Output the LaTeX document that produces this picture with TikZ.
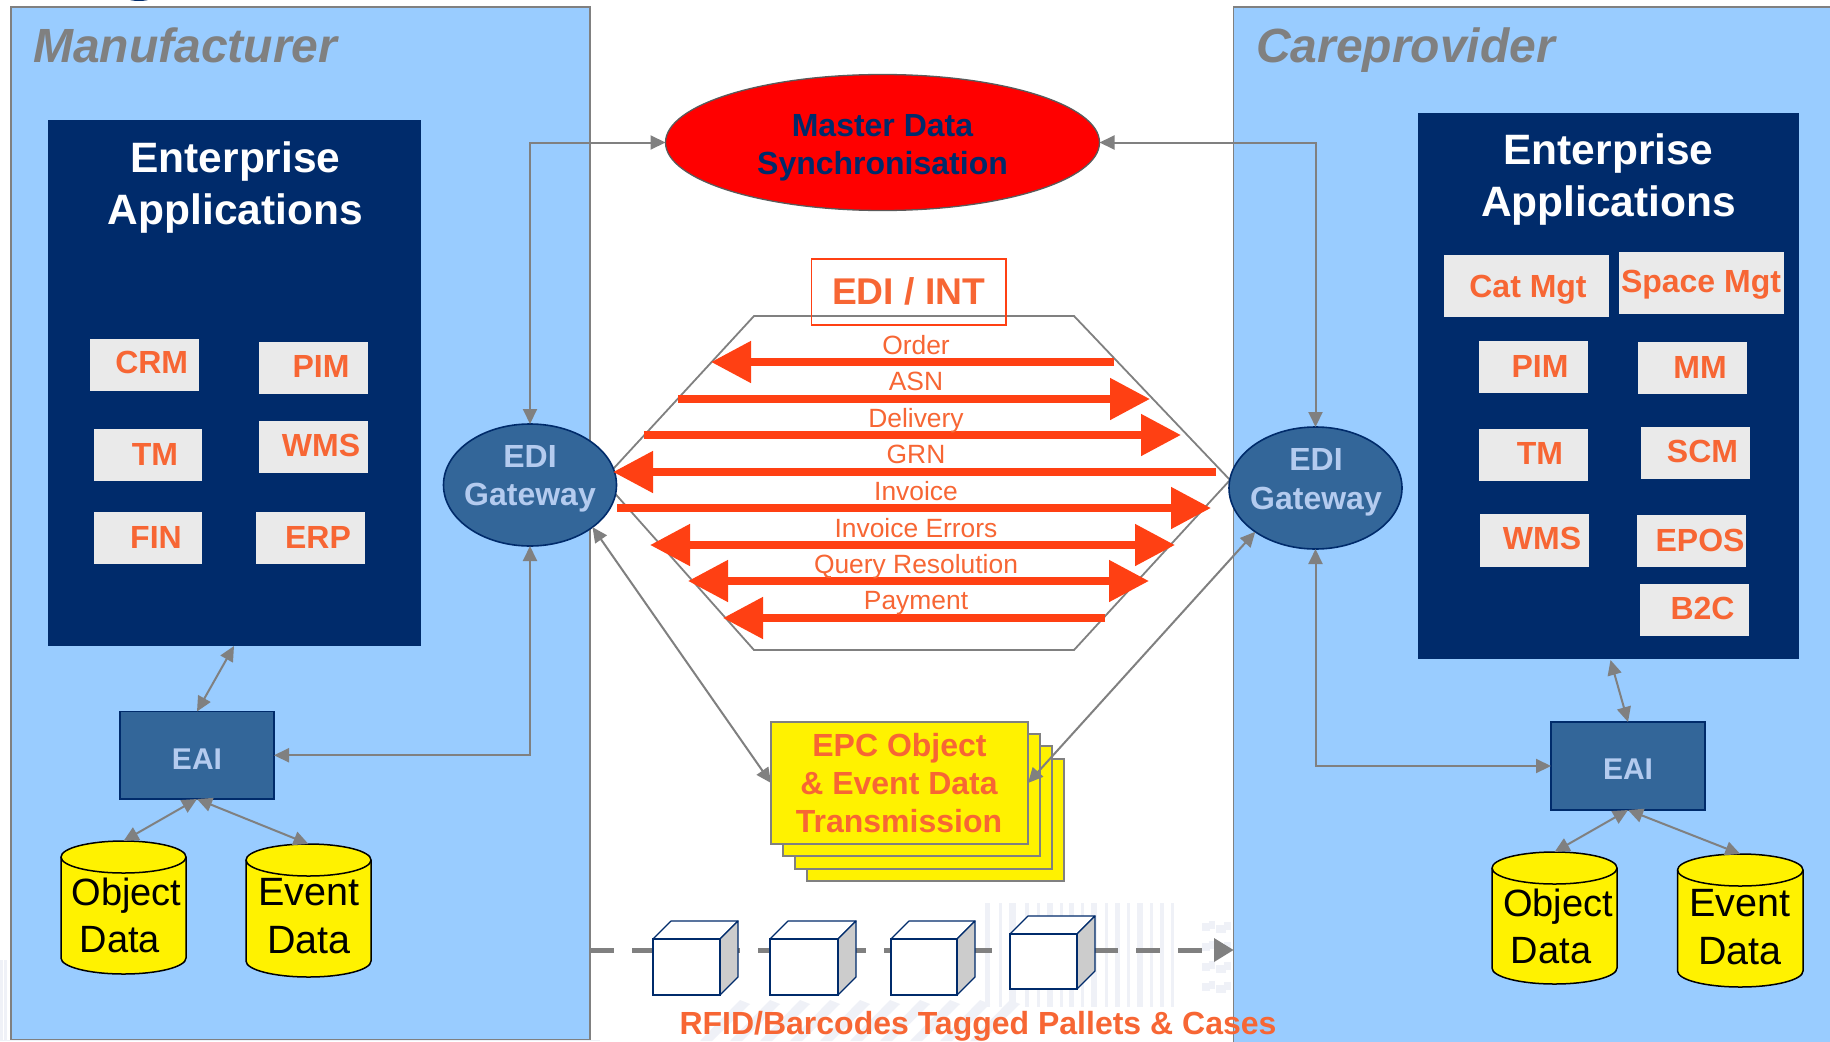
\documentclass[tikz,border=0pt]{standalone}
\usepackage{fontspec}
\setmainfont{Liberation Sans}
\usetikzlibrary{arrows.meta,shapes.geometric,calc}
\definecolor{panelblue}{HTML}{99CCFF}
\definecolor{navy}{HTML}{002B6B}
\definecolor{midblue}{HTML}{336699}
\definecolor{paleblue}{HTML}{B4CBEF}
\definecolor{orangetxt}{HTML}{F76634}
\definecolor{signalred}{HTML}{FF4013}
\definecolor{linegray}{HTML}{808080}
\definecolor{boxgray}{HTML}{EAEAEA}
\definecolor{wmark}{HTML}{EFF1F7}
\newcommand{\fsz}[1]{\fontsize{#1}{#1}\selectfont}
\newcommand{\rectnode}[6]{\node[#2,minimum width={#5-#3},minimum height={#6-#4}] (#1) at ({(#3+#5)/2},{(#4+#6)/2}) {};}
\newcommand{\appbox}[8]{\rectnode{#1box}{appstyle}{#2}{#3}{#4}{#5}\node[apptext] (#1) at (#6,#7) {#8};}
\newcommand{\signal}[7]{%
  \coordinate (#1a) at (#3,#2);\coordinate (#1b) at (#4,#2);
  \draw[signalline,#5] (#1a) -- (#1b);
  \node[signaltext] (#1t) at (916,#6) {#7};}
\newcommand{\crate}[5]{%
  \fill[fill=white] (#2,#3) -- ++(18,-18) -- ++(#4-#2,0) -- ++(-18,18) -- cycle;
  \draw[cubeline] (#2,#3) -- ++(18,-18) -- ++(#4-#2,0) -- ++(-18,18) -- cycle;
  \draw[cubeline,fill=black!20] (#4,#3) -- ++(18,-18) -- ++(0,#5-#3) -- ++(-18,18) -- cycle;
  \rectnode{#1}{cubeface}{#2}{#3}{#4}{#5}}
% name, left x, top y, right x, bottom y
\newcommand{\tank}[5]{%
  \path[tankline] (#2,#3+16) arc (180:360:{(#4-#2)/2} and 16) -- (#4,#5-16) arc (0:180:{(#4-#2)/2} and 16) -- cycle;
  \draw[tankrim] (#2,#3+16) arc (180:0:{(#4-#2)/2} and 16);
  \rectnode{#1}{tankframe}{#2}{#3}{#4}{#5}}
\tikzset{
  x=1pt,y=-1pt,
  panel/.style={draw=linegray,line width=1.8pt,fill=panelblue,inner sep=0,outer sep=0},
  entblock/.style={fill=navy,draw=none,inner sep=0,outer sep=0},
  appstyle/.style={fill=boxgray,draw=none,inner sep=0,outer sep=0},
  apptext/.style={anchor=base,inner sep=0,text=orangetxt,font=\fsz{32}\bfseries},
  headtext/.style={anchor=base,inner sep=0,text=white,font=\fsz{42.5}\bfseries},
  roletext/.style={anchor=base west,inner sep=0,text=linegray,font=\fsz{48}\bfseries\itshape},
  gateway/.style={ellipse,draw=navy,line width=1.6pt,fill=midblue,minimum width=173pt,minimum height=122pt,inner sep=0,outer sep=0},
  eaibox/.style={draw=navy,line width=1.4pt,fill=midblue,inner sep=0,outer sep=0},
  bluetext/.style={anchor=base,inner sep=0,text=paleblue,font=\fsz{#1}\bfseries},
  master/.style={ellipse,draw=linegray!70!black,line width=1.3pt,fill=red,minimum width=434pt,minimum height=136pt,inner sep=0,outer sep=0},
  mastertext/.style={anchor=base,inner sep=0,text=navy,font=\fsz{32}\bfseries},
  conn/.style={draw=linegray,line width=2pt,{Triangle[length=15pt,width=14pt]}-{Triangle[length=15pt,width=14pt]}},
  signalline/.style={draw=signalred,line width=8pt},
  righthead/.style={-{Triangle[length=40pt,width=40pt]}},
  bothhead/.style={{Triangle[length=40pt,width=40pt]}-{Triangle[length=40pt,width=40pt]}},
  signaltext/.style={anchor=base,inner sep=0,text=orangetxt,font=\fsz{26.4}},
  hexline/.style={draw=linegray,line width=1.8pt},
  editext/.style={anchor=base,inner sep=0,text=orangetxt,font=\fsz{37.2}\bfseries},
  edibox/.style={draw=signalred,line width=1.5pt,inner sep=0,outer sep=0},
  sheet/.style={draw=linegray,line width=2.2pt,fill=yellow,inner sep=0,outer sep=0},
  sheettext/.style={anchor=base,inner sep=0,text=orangetxt,font=\fsz{32}\bfseries},
  tankline/.style={draw=black,line width=1.5pt,fill=yellow},
  tankrim/.style={draw=black,line width=1.5pt},
  tankframe/.style={draw=none,fill=none,inner sep=0,outer sep=0},
  storetext/.style={anchor=base,inner sep=0,text=black,font=\fsz{#1}},
  cubeline/.style={draw=navy,line width=1.2pt,line join=round},
  cubeface/.style={draw=navy,line width=1.2pt,fill=white,inner sep=0,outer sep=0},
  flow/.style={draw=linegray,line width=5pt,dash pattern=on 24pt off 18pt},
  flowhead/.style={fill=linegray,draw=none},
  rfidtext/.style={anchor=base,inner sep=0,text=orangetxt,font=\fsz{32}\bfseries},
}
\begin{document}
\begin{tikzpicture}
\useasboundingbox (0,0) rectangle (1830,1041);
\begin{scope}
\clip (0,0) rectangle (1830,1041);
\fill[white] (0,0) rectangle (1830,1041);
% faint barcode watermark
\foreach \bx/\bw in {985/5,999/3,1009/7,1025/4,1037/3,1047/6,1060/3,1069/5,1081/3,1091/6,1105/3,1115/5,1127/3,1137/6,1150/3,1160/4,1171/3}
  \fill[wmark] (\bx,903) rectangle ++(\bw,104);
\foreach \bx/\bw in {1202/8,1216/10,1209/6,1224/7}
  \foreach \by in {915,935,955,975}
    \fill[wmark] (\bx,\by+\bw) rectangle ++(\bw,8);
\foreach \bx in {700,730,760,790,820,850,880,910,940,970}
  \fill[wmark] (\bx,1041) -- (\bx+40,1000) -- (\bx+50,1004) -- (\bx+12,1041) -- cycle;
\foreach \bx in {0,4}
  \fill[wmark] (\bx,960) rectangle ++(3,81);
\fill[wmark] (0,1040) rectangle (600,1041);
\fill[navy] (139,-8) ellipse (20 and 9);
% panels
\rectnode{mfr}{panel}{11}{7}{590}{1039.5}
\rectnode{care}{panel}{1233.5}{7}{1845}{1055}
\end{scope}
\node[roletext] (mfrt) at (33,63) {Manufacturer};
\node[roletext] (caret) at (1256,63) {Careprovider};
% enterprise blocks
\rectnode{entL}{entblock}{47.7}{120.3}{421.3}{645.7}
\rectnode{entR}{entblock}{1418}{113}{1798.7}{659}
\node[headtext] (entLa) at (235.5,172) {Enterprise};
\node[headtext] (entLb) at (235.5,224) {Applications};
\node[headtext] (entRa) at (1608.5,164) {Enterprise};
\node[headtext] (entRb) at (1608.5,216) {Applications};
\appbox{crm}{90}{339}{199}{391}{151.7}{373.5}{CRM}
\appbox{piml}{259}{342}{367.7}{393.5}{321}{377}{PIM}
\appbox{tml}{94}{429}{202}{481}{155}{465}{TM}
\appbox{wmsl}{259}{421}{367.7}{473}{321}{456.5}{WMS}
\appbox{fin}{94}{512}{202}{564}{156}{548}{FIN}
\appbox{erp}{256}{512}{365}{564}{318}{548}{ERP}
\appbox{cat}{1444}{255}{1609}{317}{1528}{297}{Cat Mgt}
\appbox{space}{1619}{252}{1784}{314}{1701}{292}{Space Mgt}
\appbox{pimr}{1479}{341}{1588}{393}{1540}{377}{PIM}
\appbox{mm}{1638}{342}{1747}{394}{1700}{378}{MM}
\appbox{tmr}{1479}{429}{1588}{481}{1540}{464}{TM}
\appbox{scm}{1641}{427}{1750}{479}{1702.5}{462}{SCM}
\appbox{wmsr}{1480}{514}{1589}{567}{1542}{549}{WMS}
\appbox{epos}{1637}{515}{1746}{567}{1700}{551}{EPOS}
\appbox{btoc}{1640}{584}{1749}{636}{1702.5}{619}{B2C}
% hexagon
\coordinate (hexL) at (603,480);
\coordinate (hexR) at (1230,480);
\draw[hexline] (hexL) -- (754,316) -- (1074,316) -- (hexR) -- (1074,650) -- (754,650) -- cycle;
% gateways
\node[gateway] (gwL) at (530,485) {};
\node[gateway] (gwR) at (1315.5,488) {};
\node[bluetext=32] (gwLa) at (530,467) {EDI};
\node[bluetext=32] (gwLb) at (530,505) {Gateway};
\node[bluetext=32] (gwRa) at (1316,470) {EDI};
\node[bluetext=32] (gwRb) at (1316,509) {Gateway};
% master data
\node[master] (mds) at (882.5,142.5) {};
\node[mastertext] (mdsa) at (882.5,136.5) {Master Data};
\node[mastertext] (mdsb) at (882.5,174.5) {Synchronisation};
% EDI box
\rectnode{edi}{edibox}{811.5}{259}{1006}{325}
\node[editext] (edit) at (908.5,304) {EDI / INT};
% signals
\signal{ord}{362}{1114}{711}{righthead}{354}{Order}
\signal{asn}{399}{678}{1150}{righthead}{390}{ASN}
\signal{del}{435}{644}{1181}{righthead}{427}{Delivery}
\signal{grn}{472}{1216}{613}{righthead}{463}{GRN}
\signal{inv}{508}{617}{1211}{righthead}{500}{Invoice}
\signal{err}{545}{650}{1175}{bothhead}{537}{Invoice Errors}
\signal{qry}{581}{688}{1149}{bothhead}{573}{Query Resolution}
\signal{pay}{618}{1105}{723}{righthead}{609}{Payment}
% EPC stack
\rectnode{epcD}{sheet}{807}{759}{1064}{881}
\rectnode{epcC}{sheet}{795}{746}{1052}{869}
\rectnode{epcB}{sheet}{783}{734}{1040}{856}
\rectnode{epcA}{sheet}{771}{722}{1028}{844}
\node[sheettext] (epca) at (899.5,756.5) {EPC Object};
\node[sheettext] (epcb) at (899,794.5) {\& Event Data};
\node[sheettext] (epcc) at (899,832.5) {Transmission};
% EAI
\rectnode{eaiL}{eaibox}{120}{711.5}{274}{799}
\rectnode{eaiR}{eaibox}{1551}{722}{1705}{810}
\node[bluetext=30] (eaiLt) at (197,769) {EAI};
\node[bluetext=30] (eaiRt) at (1628,779) {EAI};
% stores
\tank{objL}{61}{841}{186}{974}
\tank{evtL}{246}{844}{371}{977}
\tank{objR}{1492}{852}{1617}{984}
\tank{evtR}{1677.5}{854}{1803}{987}
\node[storetext=38] (objLa) at (126.5,905) {Object};
\node[storetext=38] (objLb) at (120,952) {Data};
\node[storetext=39.5] (evtLa) at (309,905) {Event};
\node[storetext=39.5] (evtLb) at (309,953) {Data};
\node[storetext=38] (objRa) at (1558,916) {Object};
\node[storetext=38] (objRb) at (1551,963) {Data};
\node[storetext=39.5] (evtRa) at (1740,916) {Event};
\node[storetext=39.5] (evtRb) at (1740,964) {Data};
% connector ends on the enterprise blocks
\coordinate (entLs) at (234,646);
\coordinate (entRs) at (1610.5,660);
% connectors
\draw[conn] (gwL.north) |- (mds.west);
\draw[conn] (gwR.north) |- (mds.east);
\draw[conn] (gwL.south) |- (eaiL.east);
\draw[conn] (gwR.south) |- (eaiR.west);
\draw[conn] (eaiL.north) -- (entLs);
\draw[conn] (eaiR.north) -- (entRs);
\draw[conn] (eaiL.south) -- (objL.north);
\draw[conn] (eaiL.south) -- (evtL.north);
\draw[conn] (eaiR.south) -- (objR.north);
\draw[conn] (eaiR.south) -- (evtR.north);
\draw[conn] (gwL.-34) -- (epcA.west);
\draw[conn] (gwR.216) -- (epcA.east);
% flow
\coordinate (flowa) at (mfr.east |- 0,950);
\coordinate (flowb) at (1214,950);
\coordinate (flowc) at (care.west |- 0,950);
\draw[flow] (flowa) -- (flowb);
\fill[flowhead] (flowc) -- (flowb |- 0,938) -- (flowb |- 0,962) -- cycle;
\crate{cubeA}{653}{939}{720}{995}
\crate{cubeB}{770}{939}{838}{995}
\crate{cubeC}{891}{939}{957}{995}
\crate{cubeD}{1010}{934}{1077}{989}
\node[rfidtext] (rfid) at (978,1034) {RFID/Barcodes Tagged Pallets \& Cases};
\end{tikzpicture}
\end{document}
